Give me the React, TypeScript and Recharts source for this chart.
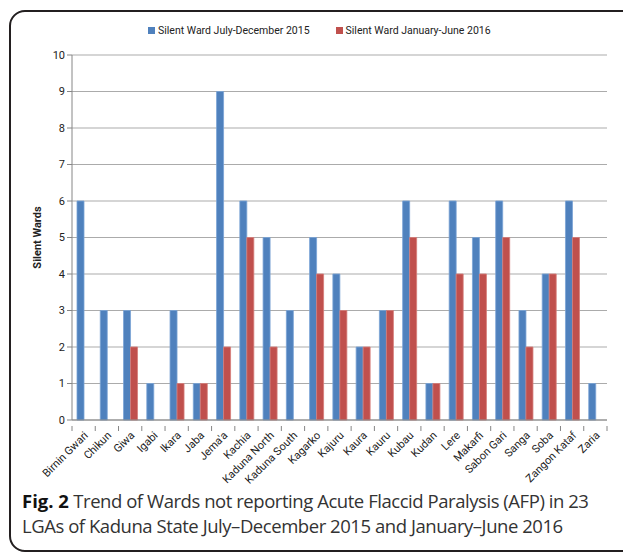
import { BarChart, Bar, XAxis, YAxis, CartesianGrid } from "recharts";

const lgas = [
  "Birnin Gwari", "Chikun", "Giwa", "Igabi", "Ikara", "Jaba", "Jema'a", "Kachia",
  "Kaduna North", "Kaduna South", "Kagarko", "Kajuru", "Kaura", "Kauru", "Kubau",
  "Kudan", "Lere", "Makarfi", "Sabon Gari", "Sanga", "Soba", "Zangon Kataf", "Zaria",
];
const julDec2015 = [6, 3, 3, 1, 3, 1, 9, 6, 5, 3, 5, 4, 2, 3, 6, 1, 6, 5, 6, 3, 4, 6, 1];
const janJun2016 = [0, 0, 2, 0, 1, 1, 2, 5, 2, 0, 4, 3, 2, 3, 5, 1, 4, 4, 5, 2, 4, 5, 0];
const yTicks = [0, 1, 2, 3, 4, 5, 6, 7, 8, 9, 10];

const series = [
  { key: "jul2015", name: "Silent Ward July-December 2015", color: "#4F81BD", edge: "#7aa3d6" },
  { key: "jan2016", name: "Silent Ward January-June 2016", color: "#C0504D", edge: "#d67c79" },
];

const data = lgas.map((lga, i) => ({ lga, jul2015: julDec2015[i], jan2016: janJun2016[i] }));

const CHART_W = 623;
const CHART_H = 490;
const MARGIN = { top: 55, right: 16, left: 0, bottom: 0 };
const Y_W = 72;
const BAND = (CHART_W - MARGIN.left - MARGIN.right - Y_W) / lgas.length;
const FONT = "Roboto, 'Liberation Sans', sans-serif";
const AXIS = "#868686";

const LgaTick = (props: any) => {
  const { x, y, payload, index } = props;
  return (
    <g>
      <line x1={x - BAND / 2} x2={x - BAND / 2} y1={y - 2} y2={y + 3} stroke={AXIS} />
      {index === lgas.length - 1 && (
        <line x1={x + BAND / 2} x2={x + BAND / 2} y1={y - 2} y2={y + 3} stroke={AXIS} />
      )}
      <text
        x={x + 3}
        y={y + 6}
        transform={`rotate(-45 ${x + 3} ${y + 6})`}
        textAnchor="end"
        dominantBaseline="middle"
        fontSize={11}
        fontFamily={FONT}
        fill="#222"
      >
        {payload.value}
      </text>
    </g>
  );
};

const YTitle = (props: any) => {
  const vb = props.viewBox || { x: 0, y: 0, height: 0 };
  const cx = 38;
  const cy = vb.y + vb.height / 2;
  return (
    <text
      x={cx}
      y={cy}
      transform={`rotate(-90 ${cx} ${cy})`}
      textAnchor="middle"
      dominantBaseline="middle"
      fontSize={11}
      fontWeight="bold"
      fontFamily={FONT}
      fill="#222"
    >
      Silent Wards
    </text>
  );
};

export default function App() {
  return (
    <div
      style={{
        position: "absolute",
        left: 0,
        top: 0,
        width: 623,
        height: 552,
        overflow: "hidden",
        background: "#fff",
      }}
    >
      {/* figure frame, open to the right like the source crop */}
      <div
        style={{
          position: "absolute",
          left: 9,
          top: 10,
          width: 700,
          height: 538,
          border: "2px solid #231f20",
          borderRadius: 16,
        }}
      />

      {/* legend */}
      <div
        style={{
          position: "absolute",
          left: 148,
          top: 24,
          display: "flex",
          alignItems: "center",
          fontFamily: FONT,
          fontSize: 10.5,
          color: "#222",
          whiteSpace: "nowrap",
        }}
      >
        {series.map((s, i) => (
          <div key={s.key} style={{ display: "flex", alignItems: "center", marginRight: i === 0 ? 26 : 0 }}>
            <span style={{ width: 7, height: 7, background: s.color, display: "inline-block", marginRight: 3 }} />
            <span>{s.name}</span>
          </div>
        ))}
      </div>

      <div style={{ position: "absolute", left: 0, top: 0 }}>
        <BarChart width={CHART_W} height={CHART_H} data={data} margin={MARGIN} barGap={0} barSize={7}>
          <CartesianGrid vertical={false} stroke="#ababab" strokeWidth={1} />
          <XAxis
            dataKey="lga"
            interval={0}
            height={CHART_H - 420 - MARGIN.bottom}
            tickLine={false}
            stroke={AXIS}
            tick={<LgaTick />}
          />
          <YAxis
            width={Y_W}
            domain={[0, 10]}
            ticks={yTicks}
            interval={0}
            stroke={AXIS}
            tickSize={5}
            tick={{ fontSize: 11, fontFamily: FONT, fill: "#222" }}
            label={<YTitle />}
          />
          {series.map((s) => (
            <Bar
              key={s.key}
              dataKey={s.key}
              name={s.name}
              fill={s.color}
              stroke={s.edge}
              strokeWidth={0.8}
              isAnimationActive={false}
            />
          ))}
        </BarChart>
      </div>

      {/* caption */}
      <div
        style={{
          position: "absolute",
          left: 22,
          top: 488,
          fontFamily: "'Open Sans', 'Noto Sans', sans-serif",
          fontSize: 18.5,
          lineHeight: "25px",
          color: "#333",
          whiteSpace: "nowrap",
          letterSpacing: -0.45,
        }}
      >
        <b style={{ color: "#111", letterSpacing: 0 }}>Fig. 2</b> Trend of Wards not reporting Acute Flaccid Paralysis (AFP) in 23
        <br />
        LGAs of Kaduna State July–December 2015 and January–June 2016
      </div>
    </div>
  );
}
